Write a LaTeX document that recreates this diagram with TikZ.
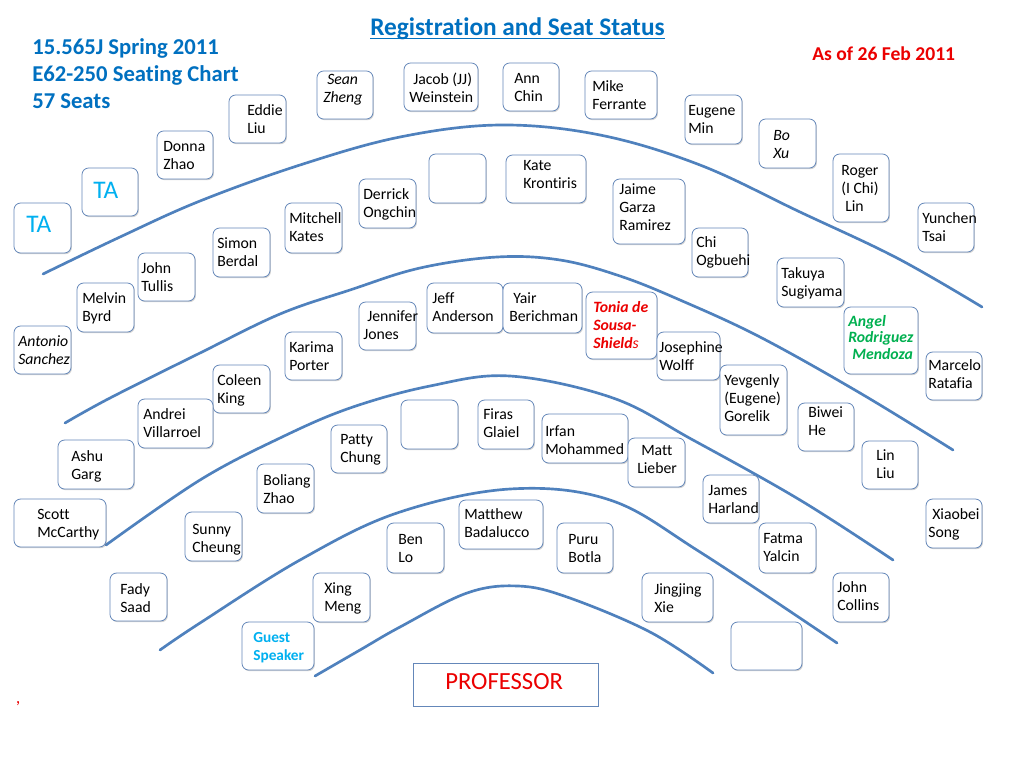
\documentclass[tikz,border=0pt]{standalone}
\usepackage{fontspec}
\setmainfont{Carlito}[Ligatures=NoCommon]
\usetikzlibrary{fit,shadows}
\definecolor{curveblue}{RGB}{79,129,189}
\definecolor{boxblue}{RGB}{100,135,185}
\definecolor{titleblue}{RGB}{0,112,192}
\definecolor{cyanb}{RGB}{0,176,240}
\definecolor{greenb}{RGB}{0,176,80}
\definecolor{redb}{RGB}{235,0,0}
\newcommand{\tstrut}{\rule{0pt}{9.6pt}}
\newcommand{\nmfont}{\fontsize{11.8}{13.8}\selectfont}
\newcommand{\ls}{\hspace*{3pt}}
\newcommand{\mkseat}[5]{\node[seatbox, fit={(#2,#3)(#4,#5)}] (#1) {};}
\newcommand{\nmtext}[4][]{\node[nmstyle,#1] (#2) at (#3) {\tstrut #4};}
\begin{document}
\begin{tikzpicture}[x=0.75pt, y=-0.75pt,
  seatbox/.style={draw=boxblue, line width=0.6pt, fill=white, rounded corners=5pt, inner sep=0pt,
    drop shadow={shadow xshift=0.7pt, shadow yshift=-0.9pt, opacity=0.35}},
  profbox/.style={draw=boxblue, line width=0.6pt, fill=white, inner sep=0pt,
    drop shadow={shadow xshift=0.7pt, shadow yshift=-0.9pt, opacity=0.35}},
  nmstyle/.style={anchor=north west, inner sep=0pt, align=left, yshift=6pt, font=\nmfont, text=black},
  curve/.style={draw=curveblue, line width=2pt, line cap=round},
  tatext/.style={anchor=base west, inner sep=0pt, font=\fontsize{19}{22}\selectfont, text=cyanb},
  headtext/.style={anchor=base west, inner sep=0pt, font=\fontsize{17}{20}\selectfont\bfseries, text=titleblue}
]
\useasboundingbox (0,0) rectangle (1024,768);
\fill[white] (0,0) rectangle (1024,768);

% row curves
\draw[curve] plot[smooth, tension=0.6] coordinates {(43,274) (120,237) (200,201) (300,165) (400,137) (500,125) (600,135) (700,165) (800,212) (897,258) (982,307)};
\draw[curve] plot[smooth, tension=0.6] coordinates {(65,423) (110,398) (200,353) (280,314) (350,290) (420,268) (497,257) (560,260) (620,276) (680,300) (760,337) (860,393) (953,450)};
\draw[curve] plot[smooth, tension=0.6] coordinates {(106,545) (200,480) (280,438) (350,408) (430,386) (510,376) (613,398) (693,440) (800,500) (893,560)};
\draw[curve] plot[smooth, tension=0.6] coordinates {(160,650) (200,623) (300,560) (397,513) (510,489) (610,500) (700,552) (837,643)};
\draw[curve] plot[smooth, tension=0.6] coordinates {(315,676) (360,650) (400,627) (467,593) (518,586) (567,597) (650,632) (713,673)};

% headings
\node[anchor=base west, inner sep=0pt, font=\fontsize{19}{22}\selectfont\bfseries, text=titleblue] (title) at (370,35) {Registration and Seat Status};
\draw[titleblue, line width=1.3pt] ([yshift=-2.6pt]title.base west) -- ([yshift=-2.6pt]title.base east);
\node[headtext] (head1) at (32,54) {15.565J Spring 2011};
\node[headtext] (head2) at (32,81) {E62-250 Seating Chart};
\node[headtext] (head3) at (32,108) {57 Seats};
\node[anchor=base west, inner sep=0pt, font=\fontsize{14.7}{17}\selectfont\bfseries, text=redb] (asof) at (812,60) {As of 26 Feb 2011};
\node[anchor=base west, inner sep=0pt, font=\fontsize{13}{14}\selectfont\itshape, text=redb] (mark) at (16,703) {,};

% seat boxes
\mkseat{eddie}{229}{95}{286}{143}
\mkseat{donna}{157}{131}{213}{179}
\mkseat{taA}{82}{168}{138}{216}
\mkseat{taB}{14}{203}{71}{253}
\mkseat{sean}{317}{71}{373}{119}
\mkseat{jacob}{404}{63}{478}{111}
\mkseat{ann}{503}{63}{559}{111}
\mkseat{mike}{585}{71}{657}{119}
\mkseat{eugene}{685}{95}{742}{144}
\mkseat{bo}{759}{119}{816}{168}
\mkseat{roger}{833}{154}{889}{222}
\mkseat{yunchen}{918}{203}{974}{252}
\mkseat{emptyA}{429}{154}{486}{203}
\mkseat{kate}{506}{155}{586}{203}
\mkseat{derrick}{359}{179}{416}{228}
\mkseat{jaime}{613}{179}{685}{244}
\mkseat{chi}{692}{228}{748}{277}
\mkseat{mitchell}{285}{203}{342}{253}
\mkseat{simon}{213}{228}{270}{277}
\mkseat{tullis}{138}{253}{195}{301}
\mkseat{melvin}{77}{283}{134}{332}
\mkseat{antonio}{14}{326}{71}{374}
\mkseat{karima}{285}{332}{342}{380}
\mkseat{coleen}{213}{365}{270}{413}
\mkseat{jennifer}{359}{302}{416}{350}
\mkseat{jeff}{427}{283}{503}{333}
\mkseat{yair}{503}{283}{582}{333}
\mkseat{tonia}{586}{292}{657}{359}
\mkseat{josephine}{657}{332}{720}{380}
\mkseat{takuya}{777}{258}{844}{307}
\mkseat{angel}{844}{307}{918}{374}
\mkseat{marcelo}{926}{352}{982}{400}
\mkseat{yevgenly}{720}{365}{787}{435}
\mkseat{biwei}{798}{403}{854}{451}
\mkseat{linliu}{862}{441}{918}{489}
\mkseat{andrei}{138}{399}{213}{448}
\mkseat{ashu}{58}{440}{134}{489}
\mkseat{scott}{14}{499}{106}{547}
\mkseat{boliang}{257}{464}{314}{513}
\mkseat{sunny}{185}{512}{242}{561}
\mkseat{fady}{110}{573}{167}{621}
\mkseat{xing}{313}{573}{370}{622}
\mkseat{patty}{331}{425}{387}{473}
\mkseat{emptyB}{401}{400}{458}{449}
\mkseat{firas}{478}{400}{534}{449}
\mkseat{irfan}{542}{414}{628}{463}
\mkseat{matt}{628}{438}{685}{487}
\mkseat{james}{703}{475}{759}{523}
\mkseat{matthew}{459}{500}{543}{549}
\mkseat{ben}{387}{523}{444}{573}
\mkseat{puru}{557}{523}{613}{573}
\mkseat{fatma}{759}{523}{816}{573}
\mkseat{collins}{833}{573}{889}{622}
\mkseat{xiaobei}{926}{499}{982}{548}
\mkseat{emptyC}{731}{622}{802}{670}
\mkseat{jingjing}{642}{573}{713}{622}
\mkseat{guest}{242}{622}{314}{670}
\node[profbox, fit={(413,663)(598,706)}] (professor) {};

% seat texts
\node[tatext] (taA-t) at (93,198) {TA};
\node[tatext] (taB-t) at (26,232) {TA};
\nmtext{eddie-t}{247,110}{Eddie\\Liu}
\nmtext{donna-t}{163,146}{Donna\\Zhao}
\nmtext[font=\nmfont\itshape]{sean-t}{323,79}{\ls Sean\\Zheng}
\nmtext{jacob-t}{409,79}{\ls Jacob (JJ)\\Weinstein}
\nmtext{ann-t}{514,78}{Ann\\Chin}
\nmtext{mike-t}{592,86}{Mike\\Ferrante}
\nmtext{eugene-t}{688,110}{Eugene\\Min}
\nmtext[font=\nmfont\itshape]{bo-t}{773,135}{Bo\\Xu}
\nmtext{roger-t}{841,170}{Roger\\(I Chi)\\\ls Lin}
\nmtext{yunchen-t}{922,218}{Yunchen\\Tsai}
\nmtext{kate-t}{523,165}{Kate\\Krontiris}
\nmtext{derrick-t}{363,194}{Derrick\\Ongchin}
\nmtext{jaime-t}{619,189}{Jaime\\Garza\\Ramirez}
\nmtext{chi-t}{696,242}{Chi\\Ogbuehi}
\nmtext{mitchell-t}{289,218}{Mitchell\\Kates}
\nmtext{simon-t}{217,243}{Simon\\Berdal}
\nmtext{tullis-t}{141,268}{John\\Tullis}
\nmtext{melvin-t}{82,298}{Melvin\\Byrd}
\nmtext[font=\nmfont\itshape]{antonio-t}{18,341}{Antonio\\Sanchez}
\nmtext{karima-t}{289,347}{Karima\\Porter}
\nmtext{coleen-t}{217,380}{Coleen\\King}
\nmtext{jennifer-t}{363,316}{\ls Jennifer\\Jones}
\nmtext{jeff-t}{432,298}{Jeff\\Anderson}
\nmtext{yair-t}{509,298}{\ls Yair\\Berichman}
\nmtext[font=\nmfont\bfseries\itshape, text=redb]{tonia-t}{593,307}{Tonia de\\Sousa-\\Shield{\mdseries s}}
\nmtext{josephine-t}{659,347}{Josephine\\Wolff}
\nmtext{takuya-t}{781,273}{Takuya\\Sugiyama}
\nmtext[font=\fontsize{11.8}{12.4}\selectfont\bfseries\itshape, text=greenb]{angel-t}{848,321}{Angel\\Rodriguez\\\ls Mendoza}
\nmtext{marcelo-t}{928,365}{Marcelo\\Ratafia}
\nmtext{yevgenly-t}{724,380}{Yevgenly\\(Eugene)\\Gorelik}
\nmtext{biwei-t}{808,412}{Biwei\\He}
\nmtext{linliu-t}{876,455}{Lin\\Liu}
\nmtext{andrei-t}{143,414}{Andrei\\Villarroel}
\nmtext{ashu-t}{71,456}{Ashu\\Garg}
\nmtext{scott-t}{37,514}{Scott\\McCarthy}
\nmtext{boliang-t}{263,480}{Boliang\\Zhao}
\nmtext{sunny-t}{192,529}{Sunny\\Cheung}
\nmtext{fady-t}{120,589}{Fady\\Saad}
\nmtext{xing-t}{324,588}{Xing\\Meng}
\nmtext{patty-t}{340,439}{Patty\\Chung}
\nmtext{firas-t}{483,414}{Firas\\Glaiel}
\nmtext{irfan-t}{545,431}{Irfan\\Mohammed}
\nmtext{matt-t}{637,450}{\ls Matt\\Lieber}
\nmtext{james-t}{708,490}{James\\Harland}
\nmtext{matthew-t}{464,514}{Matthew\\Badalucco}
\nmtext{ben-t}{398,539}{Ben\\Lo}
\nmtext{puru-t}{568,539}{Puru\\Botla}
\nmtext{fatma-t}{763,538}{Fatma\\Yalcin}
\nmtext{collins-t}{837,587}{John\\Collins}
\nmtext{xiaobei-t}{928,514}{\ls Xiaobei\\Song}
\nmtext{jingjing-t}{654,589}{Jingjing\\Xie}
\nmtext[font=\fontsize{11.5}{14}\selectfont\bfseries, text=cyanb]{guest-t}{253,637}{Guest\\Speaker}
\node[anchor=base west, inner sep=0pt, font=\fontsize{18.5}{22}\selectfont, text=redb] (professor-t) at (445,689) {PROFESSOR};
\end{tikzpicture}
\end{document}
